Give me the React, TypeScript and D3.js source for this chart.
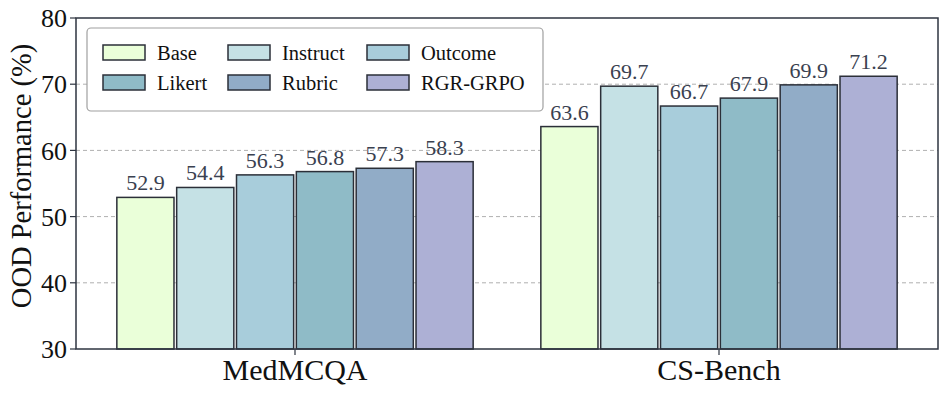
import React from "react";
import * as d3 from "d3";

const categories = ["MedMCQA", "CS-Bench"];
const methods = ["Base", "Instruct", "Outcome", "Likert", "Rubric", "RGR-GRPO"];
const medmcqa = [52.9, 54.4, 56.3, 56.8, 57.3, 58.3];
const csbench = [63.6, 69.7, 66.7, 67.9, 69.9, 71.2];
const colors = ["#eaffd9", "#c5e1e5", "#a8cddb", "#8fbbc7", "#91acc7", "#adb0d5"];
const yTicks = [30, 40, 50, 60, 70, 80];

const W = 947;
const H = 393;
const M = { left: 76, right: 9, top: 18, bottom: 44 };
const FONT = "'Liberation Serif', 'Times New Roman', serif";

export default function App() {
  const values = [medmcqa, csbench];
  const x0 = d3
    .scaleBand<string>()
    .domain(categories)
    .range([M.left, W - M.right])
    .paddingInner(0.154)
    .paddingOuter(0.0935);
  const x1 = d3
    .scaleBand<string>()
    .domain(methods)
    .range([0, x0.bandwidth()])
    .paddingInner(0.045)
    .paddingOuter(0.02);
  const y = d3.scaleLinear().domain([30, 80]).range([H - M.bottom, M.top]);

  const legendCols = [103, 228, 367];
  const legendRows = [45, 75];

  return (
    <svg
      width={W}
      height={H}
      style={{ position: "absolute", left: 0, top: 0, background: "#fff" }}
      fontFamily={FONT}
    >
      {/* grid */}
      {yTicks.slice(1, -1).map((t) => (
        <line
          key={"g" + t}
          x1={M.left}
          x2={W - M.right}
          y1={y(t)}
          y2={y(t)}
          stroke="#b0b0b0"
          strokeWidth={1}
          strokeDasharray="4,3"
        />
      ))}
      {/* bars */}
      {categories.map((c, ci) => (
        <g key={c} transform={`translate(${x0(c)},0)`}>
          {methods.map((m, mi) => {
            const v = values[ci][mi];
            const bx = x1(m)!;
            return (
              <g key={m}>
                <rect
                  x={bx}
                  y={y(v)}
                  width={x1.bandwidth()}
                  height={y(30) - y(v)}
                  fill={colors[mi]}
                  stroke="#2b2f38"
                  strokeWidth={1.5}
                />
                <text
                  x={bx + x1.bandwidth() / 2}
                  y={y(v) - 7}
                  textAnchor="middle"
                  fontSize={22}
                  fill="#3a4150"
                >
                  {v.toFixed(1)}
                </text>
              </g>
            );
          })}
        </g>
      ))}
      {/* frame */}
      <rect
        x={M.left}
        y={M.top}
        width={W - M.right - M.left}
        height={H - M.bottom - M.top}
        fill="none"
        stroke="#2e3440"
        strokeWidth={1.5}
      />
      {/* y ticks */}
      {yTicks.map((t) => (
        <g key={"y" + t}>
          <line x1={M.left - 6} x2={M.left} y1={y(t)} y2={y(t)} stroke="#2e3440" strokeWidth={1.2} />
          <text
            x={M.left - 9}
            y={y(t)}
            dy="0.35em"
            textAnchor="end"
            fontSize={26}
            fill="#111"
          >
            {t}
          </text>
        </g>
      ))}
      {/* x ticks */}
      {categories.map((c) => {
        const cx = x0(c)! + x0.bandwidth() / 2;
        return (
          <g key={"x" + c}>
            <line x1={cx} x2={cx} y1={H - M.bottom} y2={H - M.bottom + 6} stroke="#2e3440" strokeWidth={1.2} />
            <text x={cx} y={H - M.bottom + 31} textAnchor="middle" fontSize={30} fill="#111">
              {c}
            </text>
          </g>
        );
      })}
      {/* y label */}
      <text
        transform={`translate(31,176) rotate(-90)`}
        textAnchor="middle"
        fontSize={28.5}
        fill="#111"
      >
        OOD Performance (%)
      </text>
      {/* legend */}
      <rect x={87} y={28} width={456} height={83} rx={4} fill="#fff" stroke="#a0a0a0" strokeWidth={1.2} />
      {methods.map((m, i) => {
        const col = i % 3;
        const row = Math.floor(i / 3);
        const lx = legendCols[col];
        const ly = legendRows[row];
        return (
          <g key={"l" + m}>
            <rect x={lx} y={ly} width={42} height={15} fill={colors[i]} stroke="#2b2f38" strokeWidth={1.5} />
            <text x={lx + 54} y={ly + 15} fontSize={20.5} fill="#111">
              {m}
            </text>
          </g>
        );
      })}
    </svg>
  );
}
